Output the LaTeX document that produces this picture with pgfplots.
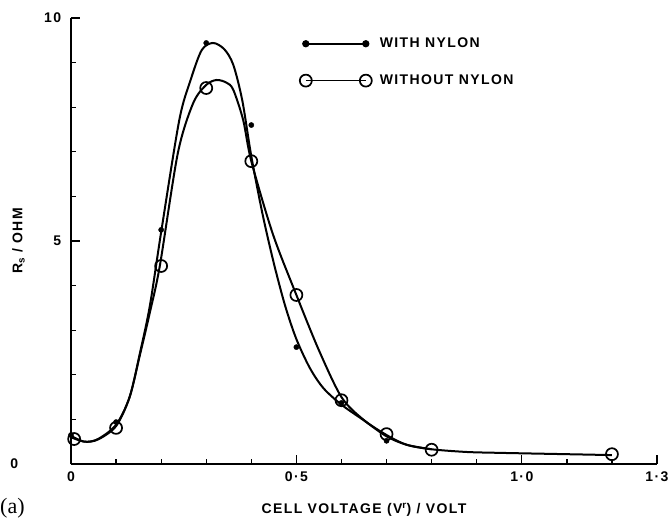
\documentclass[border=0pt]{standalone}
\usepackage{pgfplots}
\pgfplotsset{compat=1.18}
\usepackage{fontspec}
\setmainfont{Liberation Sans}[LetterSpace=10]
\newfontfamily\serifa{Liberation Serif}
\begin{document}
\fontsize{14}{16}\selectfont\bfseries
\begin{tikzpicture}
\begin{axis}[
  at={(0,0)}, anchor=south west,
  scale only axis, width=586pt, height=446pt,
  xmin=0, xmax=1.3, ymin=0, ymax=10,
  axis x line*=bottom, axis y line*=left,
  axis line style={-, line width=1.3pt},
  xtick={0,0.5,1.0,1.3}, xticklabels={0,0·5,1·0,1·3},
  minor xtick={0.1,0.2,0.3,0.4,0.6,0.7,0.8,0.9,1.1,1.2},
  ytick={0,5,10}, yticklabels={\makebox[0pt][r]{0\hspace{43pt}},5,10},
  minor ytick={1,2,3,4,6,7,8,9},
  xtick pos=bottom, ytick pos=left,
  tick align=inside,
  major tick length=9pt, minor tick length=5pt,
  tick style={line width=1.3pt, black},
  tick label style={font=\fontsize{14}{16}\selectfont\bfseries},
  xticklabel style={yshift=-3pt},
  yticklabel style={xshift=-5pt},
  /pgf/number format/assume math mode=true,
  xlabel={CELL VOLTAGE (V\textsuperscript{r}) / VOLT},
  ylabel={R\textsubscript{s} / OHM},
  label style={font=\fontsize{14}{16}\selectfont\bfseries},
  xlabel style={yshift=-12pt},
  ylabel style={yshift=10pt},
  clip=false,
  legend style={draw=none, fill=none, at={(rel axis cs:0.385,0.965)}, anchor=north west,
    font=\fontsize{14}{16}\selectfont\bfseries, row sep=21pt, column sep=6pt},
  legend cell align=left,
  legend image code/.code={\draw[#1] plot coordinates {(0pt,0pt) (60pt,0pt)};},
]
% smooth curves
\addplot[black, line width=2pt, smooth, forget plot] coordinates {
(0.0,0.63) (0.03,0.5) (0.06,0.56) (0.1,0.88) (0.13,1.5) (0.153,2.49) (0.175,3.55)
(0.2,5.2) (0.24,7.7) (0.265,8.6) (0.29,9.28) (0.315,9.44) (0.34,9.3) (0.36,8.95)
(0.38,8.15) (0.40,6.9) (0.425,5.6) (0.45,4.5) (0.475,3.55) (0.50,2.8)
(0.53,2.15) (0.56,1.7) (0.60,1.33) (0.648,0.99) (0.70,0.62) (0.745,0.43) (0.8,0.33)
};
\addplot[black, line width=2pt, smooth, forget plot] coordinates {
(0.0,0.6) (0.03,0.5) (0.06,0.55) (0.1,0.85) (0.13,1.5) (0.153,2.45) (0.175,3.4)
(0.197,4.44) (0.237,6.97) (0.271,8.09) (0.30,8.5) (0.323,8.61) (0.345,8.55) (0.36,8.39)
(0.382,7.71) (0.40,6.79) (0.448,5.15) (0.5,3.79) (0.55,2.55) (0.6,1.5)
(0.648,1.0) (0.70,0.65) (0.745,0.43) (0.8,0.33) (0.877,0.27) (0.95,0.25) (1.1,0.22) (1.2,0.2)
};
% data marks
\addplot[only marks, mark=*, mark size=2.6pt, black, forget plot] coordinates {
(0.0,0.65) (0.1,0.94) (0.2,5.25) (0.3,9.44) (0.4,7.6) (0.5,2.62) (0.6,1.37) (0.7,0.52)
};
\addplot[only marks, mark=o, mark size=6pt, black, mark options={line width=1.7pt, fill=white}, forget plot] coordinates {
(0.007,0.56) (0.1,0.81) (0.2,4.44) (0.3,8.43) (0.4,6.79) (0.5,3.79) (0.6,1.43) (0.7,0.67) (0.8,0.32) (1.2,0.22)
};
\addlegendimage{black, line width=2pt, mark=*, mark size=2.6pt}
\addlegendentry{WITH NYLON}
\addlegendimage{black, line width=1.4pt, mark=o, mark size=6pt, mark options={line width=1.7pt, fill=white}}
\addlegendentry{WITHOUT NYLON}
\node[anchor=south west, inner sep=0pt, font={\serifa\mdseries\fontsize{22}{24}\selectfont}] at (rel axis cs:0,0) [xshift=-71pt, yshift=-54pt] {(a)};
\end{axis}
\pgfresetboundingbox
\path[use as bounding box] (-71pt,-55pt) rectangle (600pt,464pt);
\end{tikzpicture}
\end{document}
